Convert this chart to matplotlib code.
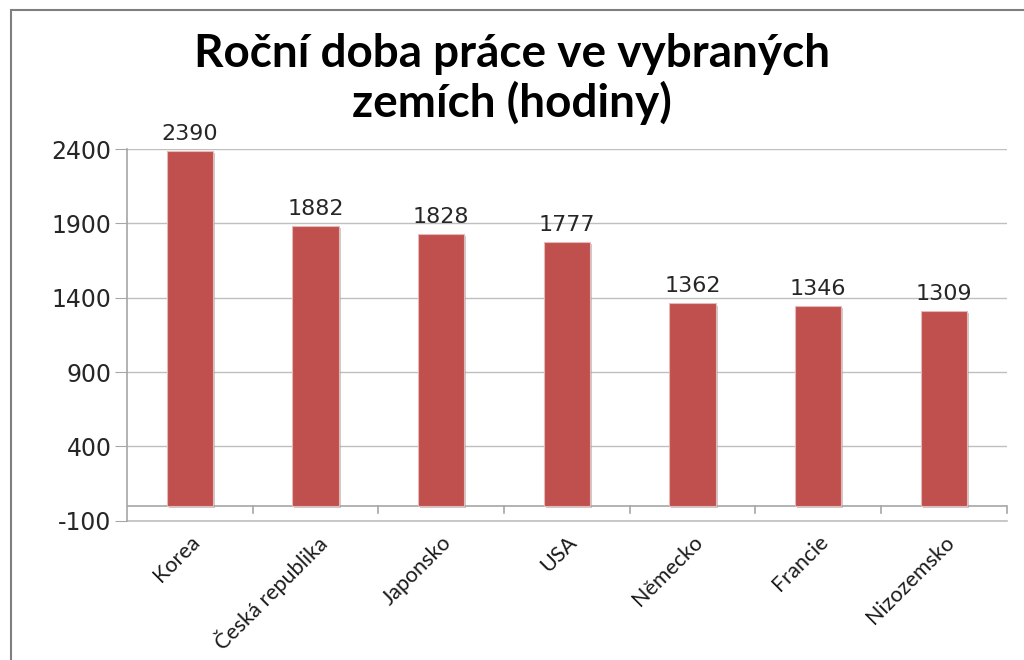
import matplotlib.pyplot as plt
from matplotlib.patches import Rectangle
import matplotlib.patheffects as pe

countries = ['Korea', 'Česká republika', 'Japonsko', 'USA', 'Německo', 'Francie', 'Nizozemsko']
hours = [2390, 1882, 1828, 1777, 1362, 1346, 1309]
yticks = [-100, 400, 900, 1400, 1900, 2400]

fig = plt.figure(figsize=(10.24, 6.6), dpi=100)
ax = fig.add_axes([0.124, 0.211, 0.859, 0.563])

# outer chart border (only left and top visible in the reference)
fig.patches.append(Rectangle((0.011, -0.1), 1.2, 1.085, transform=fig.transFigure,
                             fill=False, edgecolor='#7f7f7f', linewidth=1.5))

x = list(range(len(countries)))
bars = ax.bar(x, hours, width=0.37, color='#C0504D', edgecolor='#e6b9b8', linewidth=0.8,
              zorder=3)
for b in bars:
    b.set_path_effects([pe.SimplePatchShadow(offset=(1.5, -1.5), shadow_rgbFace='#999999', alpha=0.5),
                        pe.Normal()])

for xi, v in zip(x, hours):
    ax.annotate(str(v), (xi, v), xytext=(0, 5), textcoords='offset points',
                ha='center', va='bottom', fontsize=16, color='#262626',
                family='DejaVu Sans')

ax.set_xlim(-0.5, len(countries) - 0.5)
ax.set_ylim(-100, 2400)
ax.set_yticks(yticks)
ax.set_yticklabels([str(t) for t in yticks], fontsize=17, family='DejaVu Sans', color='#262626')
ax.tick_params(axis='y', length=9, color='#a6a6a6', pad=2)
ax.grid(axis='y', color='#bfbfbf', linewidth=1, zorder=0)
ax.axhline(-100, color='#bfbfbf', linewidth=1.2, zorder=1, clip_on=False)

# category axis drawn at zero with ticks between categories
ax.axhline(0, color='#a6a6a6', linewidth=1.2, zorder=2)
for b in range(1, len(countries) + 1):
    ax.plot([b - 0.5, b - 0.5], [0, -45], color='#a6a6a6', linewidth=1.2, zorder=2, clip_on=False)

ax.set_xticks(x)
ax.set_xticklabels(countries, rotation=45, ha='right', rotation_mode='anchor',
                   fontsize=15.5, family='Lato', color='#1a1a1a')
ax.tick_params(axis='x', length=0, pad=8)

for s in ['top', 'right', 'bottom']:
    ax.spines[s].set_visible(False)
ax.spines['left'].set_color('#a6a6a6')
ax.spines['left'].set_linewidth(1.2)

fig.text(0.5, 0.88, 'Roční doba práce ve vybraných\nzemích (hodiny)', ha='center', va='center',
         fontsize=33, fontweight='bold', family='Lato', linespacing=1.15)

fig.savefig('out.png', dpi=100)
